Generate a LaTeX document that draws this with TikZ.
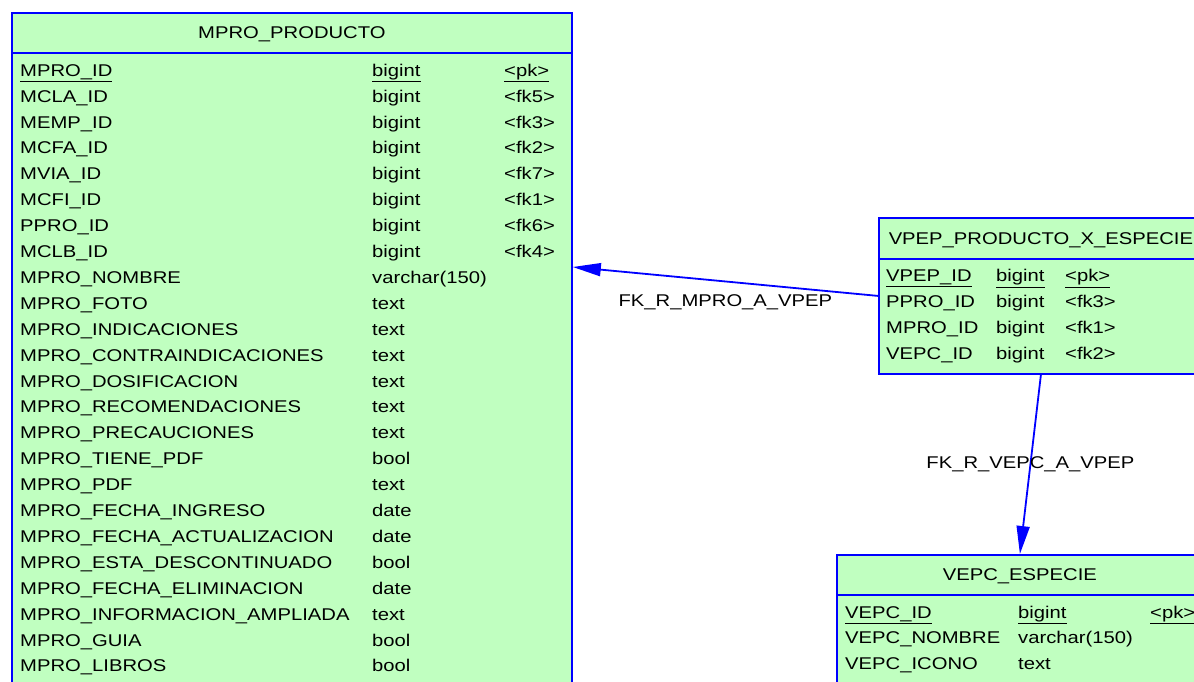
\documentclass[tikz,border=0pt]{standalone}
\usepackage{fontspec}
\setmainfont{Liberation Sans}[FakeStretch=1.19]
\usepackage{xcolor}
\usetikzlibrary{arrows.meta,positioning}
\definecolor{verdeTabla}{HTML}{C0FFC0}
\definecolor{azulBorde}{HTML}{0000FF}

\begin{document}
\begin{tikzpicture}[
            x=1pt, y=-1pt,
            font=\fontsize{17}{20}\selectfont,
            tabla/.style={draw=azulBorde, line width=1.8pt, fill=verdeTabla, anchor=north west, inner sep=0pt},
            cabecera/.style={tabla, text height=12pt, text depth=0pt},
            campos/.style={anchor=north west, inner sep=0pt},
            referencia/.style={-{Triangle[length=28pt, width=13pt]}, line width=1.8pt, azulBorde},
            etiqueta/.style={inner sep=2pt, text=black}
        ]
\useasboundingbox (0,0) rectangle (1194,681);
\clip (0,0) rectangle (1194,681);

% tablas
\node[tabla, minimum width=560pt, minimum height=690pt] (mpro) at (11,12) {};
\node[cabecera, minimum width=560pt, minimum height=40pt] (mproTitulo) at (mpro.north west) {MPRO\_PRODUCTO};
\node[campos] (mproCampos) at (20,57.9) {\fontsize{17}{25.9}\selectfont
\begin{tabular}{@{}p{352pt}@{}p{132pt}@{}l@{}}
\underline{MPRO\_ID} & \underline{bigint} & \underline{<pk>}\\
MCLA\_ID & bigint & <fk5>\\
MEMP\_ID & bigint & <fk3>\\
MCFA\_ID & bigint & <fk2>\\
MVIA\_ID & bigint & <fk7>\\
MCFI\_ID & bigint & <fk1>\\
PPRO\_ID & bigint & <fk6>\\
MCLB\_ID & bigint & <fk4>\\
MPRO\_NOMBRE & varchar(150) & \\
MPRO\_FOTO & text & \\
MPRO\_INDICACIONES & text & \\
MPRO\_CONTRAINDICACIONES & text & \\
MPRO\_DOSIFICACION & text & \\
MPRO\_RECOMENDACIONES & text & \\
MPRO\_PRECAUCIONES & text & \\
MPRO\_TIENE\_PDF & bool & \\
MPRO\_PDF & text & \\
MPRO\_FECHA\_INGRESO & date & \\
MPRO\_FECHA\_ACTUALIZACION & date & \\
MPRO\_ESTA\_DESCONTINUADO & bool & \\
MPRO\_FECHA\_ELIMINACION & date & \\
MPRO\_INFORMACION\_AMPLIADA & text & \\
MPRO\_GUIA & bool & \\
MPRO\_LIBROS & bool & \\
\end{tabular}};

\node[tabla, minimum width=324pt, minimum height=156pt] (vpep) at (878,217) {};
\node[cabecera, minimum width=324pt, minimum height=41pt] (vpepTitulo) at (vpep.north west) {VPEP\_PRODUCTO\_X\_ESPECIE};
\node[campos] (vpepCampos) at (886,263.5) {\fontsize{17}{26}\selectfont
\begin{tabular}{@{}p{110pt}@{}p{69pt}@{}l@{}}
\underline{VPEP\_ID} & \underline{bigint} & \underline{<pk>}\\
PPRO\_ID & bigint & <fk3>\\
MPRO\_ID & bigint & <fk1>\\
VEPC\_ID & bigint & <fk2>\\
\end{tabular}};

\node[tabla, minimum width=366pt, minimum height=200pt] (vepc) at (836,554) {};
\node[cabecera, minimum width=366pt, minimum height=40pt] (vepcTitulo) at (vepc.north west) {VEPC\_ESPECIE};
\node[campos] (vepcCampos) at (845,600.5) {\fontsize{17}{25.3}\selectfont
\begin{tabular}{@{}p{173pt}@{}p{132pt}@{}l@{}}
\underline{VEPC\_ID} & \underline{bigint} & \underline{<pk>}\\
VEPC\_NOMBRE & varchar(150) & \\
VEPC\_ICONO & text & \\
\end{tabular}};

% referencias
\coordinate (mproLlegada) at (mpro.east |- 0,267);
\draw[referencia] (vpep.west) -- (mproLlegada) node[midway, below=10pt, etiqueta] {FK\_R\_MPRO\_A\_VPEP};
\draw[referencia] (vpep.south) -- (vepc.north) node[midway, etiqueta] {FK\_R\_VEPC\_A\_VPEP};
\end{tikzpicture}
\end{document}
